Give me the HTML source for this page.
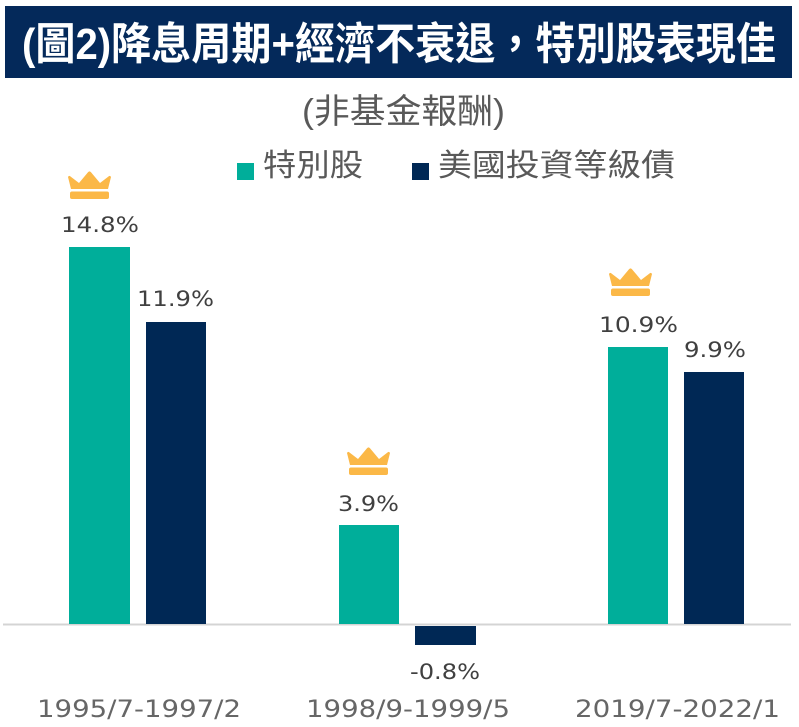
<!DOCTYPE html>
<html>
<head>
<meta charset="utf-8">
<style>
html,body{margin:0;padding:0;background:#fff;}
svg{display:block;}
</style>
</head>
<body>
<svg width="799" height="727" viewBox="0 0 799 727" xmlns="http://www.w3.org/2000/svg">
  <defs>
    <g id="crown">
      <path d="M1,6 Q2,4 3.5,5.5 L12,12 L21,1.2 Q22.5,-0.5 24,1.2 L33,12 L41.5,5.5 Q43,4 44,6 L41,18 L4,18 Z" fill="#FBB847"/>
      <rect x="3" y="20.5" width="39" height="7.5" rx="2" fill="#FBB847"/>
    </g>
  </defs>
  <rect x="0" y="0" width="799" height="727" fill="#ffffff"/>
  <!-- Header -->
  <rect x="5" y="6" width="787" height="72" fill="#04295A"/>
  <text x="22" y="59" font-family="'Liberation Sans','Noto Sans CJK TC',sans-serif" font-weight="bold" font-size="44" fill="#ffffff" textLength="754" lengthAdjust="spacingAndGlyphs">(圖2)降息周期+經濟不衰退，特別股表現佳</text>

  <!-- Subtitle -->
  <text x="302" y="123" font-family="'Liberation Sans','Noto Sans CJK TC',sans-serif" font-size="34" fill="#595959" textLength="203" lengthAdjust="spacingAndGlyphs">(非基金報酬)</text>

  <!-- Legend -->
  <rect x="237" y="163" width="17" height="17" fill="#00AE9A"/>
  <text x="263" y="176" font-family="'Liberation Sans','Noto Sans CJK TC',sans-serif" font-size="31" fill="#595959" textLength="100" lengthAdjust="spacingAndGlyphs">特別股</text>
  <rect x="412" y="163" width="17" height="17" fill="#002855"/>
  <text x="438" y="176" font-family="'Liberation Sans','Noto Sans CJK TC',sans-serif" font-size="31" fill="#595959" textLength="237" lengthAdjust="spacingAndGlyphs">美國投資等級債</text>

  <!-- Baseline -->
  <rect x="3" y="623.5" width="788" height="2" fill="#D4D4D4"/>

  <!-- Bars -->
  <rect x="69" y="247" width="61" height="377" fill="#00AE9A"/>
  <rect x="146" y="322" width="60" height="302" fill="#002855"/>
  <rect x="339" y="525" width="60" height="99" fill="#00AE9A"/>
  <rect x="415" y="626" width="61" height="19" fill="#002855"/>
  <rect x="608" y="347" width="60" height="277" fill="#00AE9A"/>
  <rect x="684" y="372" width="60" height="252" fill="#002855"/>

  <!-- Crowns -->
  <use href="#crown" x="67" y="171"/>
  <use href="#crown" x="346" y="447"/>
  <use href="#crown" x="608" y="268"/>

  <!-- Value labels -->
  <g font-family="'DejaVu Sans','Liberation Sans',sans-serif" font-size="21" fill="#404040" lengthAdjust="spacingAndGlyphs">
    <text x="61" y="232" textLength="78" lengthAdjust="spacingAndGlyphs">14.8%</text>
    <text x="137" y="306" textLength="77" lengthAdjust="spacingAndGlyphs">11.9%</text>
    <text x="338" y="511" textLength="61" lengthAdjust="spacingAndGlyphs">3.9%</text>
    <text x="410" y="679" textLength="70" lengthAdjust="spacingAndGlyphs">-0.8%</text>
    <text x="599" y="332" textLength="79" lengthAdjust="spacingAndGlyphs">10.9%</text>
    <text x="684" y="357" textLength="62" lengthAdjust="spacingAndGlyphs">9.9%</text>
  </g>

  <!-- Category labels -->
  <g font-family="'DejaVu Sans','Liberation Sans',sans-serif" font-size="24" fill="#666666">
    <text x="37" y="717" textLength="204" lengthAdjust="spacingAndGlyphs">1995/7-1997/2</text>
    <text x="306" y="717" textLength="204" lengthAdjust="spacingAndGlyphs">1998/9-1999/5</text>
    <text x="575" y="717" textLength="205" lengthAdjust="spacingAndGlyphs">2019/7-2022/1</text>
  </g>
</svg>
</body>
</html>
